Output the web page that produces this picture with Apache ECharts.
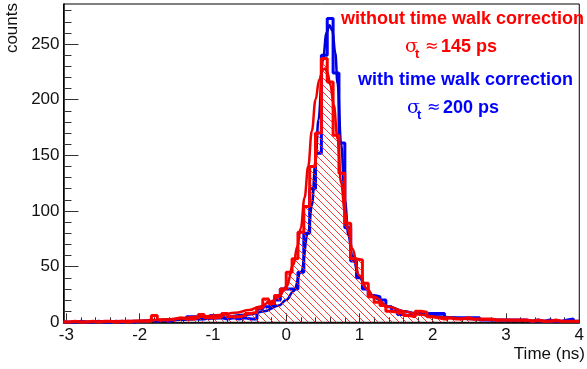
<!DOCTYPE html>
<html><head><meta charset="utf-8">
<script src="https://cdn.jsdelivr.net/npm/echarts@6/dist/echarts.min.js"></script>
<style>html,body{margin:0;padding:0;background:#fff}#c{width:587px;height:369px}</style>
</head><body><div id="c"></div>
<script>
// ---- data ----
var binStart = -3.04;          // left edge of first bin (ns)
var binWidth = 0.08;           // bin width (ns)
// counts per bin, WITHOUT time walk correction (red, hatched)
var redCounts = [0,1,0,0,1,0,1,1,0,1,0,1,1, 1,1,6,2,2,3,4,3,3,4,7,4,4,5,8,5,5,6,8,9,13,21,17,24,30,45,57,81,104,140,170,237,216,168,134,89,57,56,35,23,18,15,10,9,8,6,5,10,9,5,4,3,4,3,3,4,3,3,3,3,2,2,2,2,2,2,1,2,1,1,2,1,1,1,1];
// counts per bin, WITH time walk correction (blue)
var blueCounts = [0,0,1,0,0,1,0,0,1,0,1,0,1, 1,2,1,2,1,2,3,3,5,5,3,4,6,4,3,4,3,4,3,3,12,14,15,20,30,30,30,45,80,120,152,240,273,224,161,85,55,40,30,24,23,20,14,10,7,6,6,8,8,8,8,8,4,4,4,4,4,4,2,2,2,2,2,2,2,2,1,2,1,2,1,1,2,3,1];
// fit curves
var redFitX  = [-3.04,-2.5,-2.0,-1.6,-1.2,-0.9,-0.7,-0.5,-0.37,-0.2,-0.1,0.0,0.1,0.15,0.2,0.25,0.3,0.35,0.4,0.45,0.5,0.53,0.56,0.6,0.65,0.7,0.75,0.8,0.85,0.9,1.0,1.1,1.2,1.4,1.6,1.8,2.07,2.5,2.9,3.5,4.0];
var redFitY  = [0.5,0.8,1.5,2.7,5,6.5,8.5,11,14,19,23,32,52,68,85,112,140,172,200,218,227,228,225,214,195,165,125,100,82,66,42,30,23,14,10,7,4.5,3,2,1.2,0.8];
var blueFitX = [-3.04,-2.5,-2.0,-1.5,-1.0,-0.5,-0.3,-0.1,0.0,0.1,0.2,0.3,0.35,0.4,0.44,0.5,0.55,0.59,0.63,0.67,0.7,0.75,0.8,0.85,0.9,1.0,1.1,1.2,1.4,1.6,1.8,2.0,2.5,3.0,3.5,4.0];
var blueFitY = [0.3,0.6,1.2,2.2,3.5,7,10,15,20,28,45,80,105,145,182,235,260,267,262,242,215,160,110,78,60,40,30,22,14,10,7.5,5.5,3,1.8,1,0.6];
// axes
var xMin = -3.04, xMax = 4.0, yMin = 0, yMax = 286;
var xMajor = [-3,-2,-1,0,1,2,3,4];
var yMajor = [0,50,100,150,200,250];

// ---- build ----
function histData(counts){
  var d = counts.map(function(v,i){ return [binStart + i*binWidth, v]; });
  d.push([binStart + counts.length*binWidth, counts[counts.length-1]]);
  return d;
}
function zip(a,b){ return a.map(function(v,i){ return [v,b[i]]; }); }
var xMinor = [], yMinor = [];
for (var k=-15;k<=20;k++){ if (k%5!==0) xMinor.push(+(k*0.2).toFixed(2)); }
for (var k=1;k<=28;k++){ if (k%5!==0) yMinor.push(k*10); }

var P = 7;
var pc = document.createElement('canvas'); pc.width=P; pc.height=P;
var g = pc.getContext('2d'); g.strokeStyle='#ff2020'; g.lineWidth=0.9;
g.beginPath(); g.moveTo(-1,-1); g.lineTo(P+1,P+1); g.moveTo(P-1,-1); g.lineTo(P+1,1); g.moveTo(-1,P-1); g.lineTo(1,P+1); g.stroke();

var FONT = '"Liberation Sans", Arial, sans-serif';
var chart = echarts.init(document.getElementById('c'), null, {renderer:'canvas'});
function xAxisCfg(major){
  return {type:'value', min:xMin, max:xMax, position:'bottom',
    axisLine:{show:major, onZero:false, lineStyle:{color:'#000', width:1.5}},
    axisTick:{show:true, inside:true, length: major?9:5, customValues: major?xMajor:xMinor, lineStyle:{color:'#333', width:1}},
    axisLabel:{show:major, customValues:xMajor, margin:5, fontSize:17, color:'#111', fontFamily:FONT},
    splitLine:{show:false}};
}
function yAxisCfg(major){
  return {type:'value', min:yMin, max:yMax, position:'left',
    axisLine:{show:major, onZero:false, lineStyle:{color:'#000', width:1.5}},
    axisTick:{show:true, inside:true, length: major?15:8, customValues: major?yMajor:yMinor, lineStyle:{color:'#333', width:1}},
    axisLabel:{show:major, customValues:yMajor, margin:4, fontSize:17, color:'#111', fontFamily:FONT},
    splitLine:{show:false}};
}
chart.setOption({
  animation:false,
  grid:{left:63.5, top:4, width:518.5, height:318.3, show:true, borderColor:'#000', borderWidth:1, containLabel:false},
  xAxis:[xAxisCfg(true), xAxisCfg(false)],
  yAxis:[yAxisCfg(true), yAxisCfg(false)],
  series:[
    {type:'line', name:'with', step:'end', data:histData(blueCounts), symbol:'none', lineStyle:{color:'#0000ff', width:3}, z:2},
    {type:'line', name:'withFit', data:zip(blueFitX,blueFitY), smooth:0.4, smoothMonotone:'x', symbol:'none', lineStyle:{color:'#0000cc', width:2.5}, z:3},
    {type:'line', name:'without', step:'end', data:histData(redCounts), symbol:'none', lineStyle:{color:'#ff0000', width:3}, areaStyle:{color:{image:pc, repeat:'repeat'}, opacity:1}, z:4},
    {type:'line', name:'withoutFit', data:zip(redFitX,redFitY), smooth:0.4, smoothMonotone:'x', symbol:'none', lineStyle:{color:'#ee0000', width:2.5}, z:5}
  ],
  graphic:[
    {type:'text', x:12, y:3, rotation:Math.PI/2, style:{text:'counts', font:'17px '+FONT, fill:'#111', align:'right', verticalAlign:'middle'}},
    {type:'text', x:585, y:354, style:{text:'Time (ns)', font:'17px '+FONT, fill:'#111', align:'right', verticalAlign:'middle'}},
    {type:'text', x:341, y:19, style:{text:'without time walk correction', font:'bold 18px '+FONT, fill:'#ff0000', align:'left', verticalAlign:'middle'}},
    {type:'text', x:405, y:47, style:{text:'σ', font:'19px "DejaVu Serif", serif', fill:'#ff0000', align:'left', verticalAlign:'middle'}},
    {type:'text', x:415, y:54, style:{text:'t', font:'bold 13px '+FONT, fill:'#ff0000', align:'left', verticalAlign:'middle'}},
    {type:'text', x:425, y:47, style:{text:'≈', font:'16px "DejaVu Sans", sans-serif', fill:'#ff0000', align:'left', verticalAlign:'middle'}},
    {type:'text', x:441, y:47, style:{text:'145 ps', font:'bold 18px '+FONT, fill:'#ff0000', align:'left', verticalAlign:'middle'}},
    {type:'text', x:358, y:80, style:{text:'with time walk correction', font:'bold 18px '+FONT, fill:'#0000ff', align:'left', verticalAlign:'middle'}},
    {type:'text', x:407, y:108, style:{text:'σ', font:'19px "DejaVu Serif", serif', fill:'#0000ff', align:'left', verticalAlign:'middle'}},
    {type:'text', x:417, y:115, style:{text:'t', font:'bold 13px '+FONT, fill:'#0000ff', align:'left', verticalAlign:'middle'}},
    {type:'text', x:427, y:108, style:{text:'≈', font:'16px "DejaVu Sans", sans-serif', fill:'#0000ff', align:'left', verticalAlign:'middle'}},
    {type:'text', x:443, y:108, style:{text:'200 ps', font:'bold 18px '+FONT, fill:'#0000ff', align:'left', verticalAlign:'middle'}}
  ]
});
</script></body></html>
